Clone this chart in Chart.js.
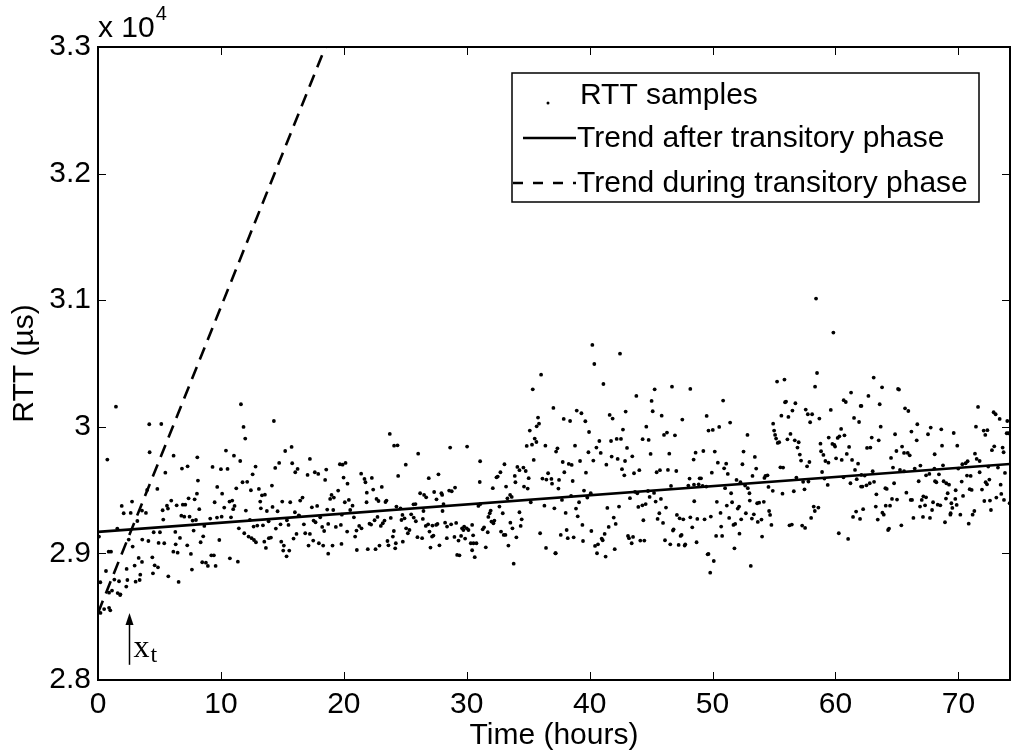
<!DOCTYPE html>
<html>
<head>
<meta charset="utf-8">
<script src="https://cdn.jsdelivr.net/npm/chart.js@4.4.0/dist/chart.umd.min.js"></script>
<style>
  html, body { margin: 0; padding: 0; background: #fff; }
  #wrap { width: 1014px; height: 755px; }
</style>
</head>
<body>
<div id="wrap"><canvas id="rttChart" width="1014" height="755"></canvas></div>
<script>
// --- datos ---
const xTickValues = [0, 10, 20, 30, 40, 50, 60, 70];
const yTickValues = [28000, 29000, 30000, 31000, 32000, 33000];
const yTickLabels = ['2.8', '2.9', '3', '3.1', '3.2', '3.3'];

// muestras RTT: [horas, microsegundos]
const rttSamples = [
  [1.46,30159],[11.63,30178],[4.17,30020],[5.15,30022],[11.84,29999],[11.98,29907],[0.76,29741],[4.2,29799],[6.15,29772],[8.08,29759],
  [10.41,29812],[11.06,29772],[11.57,29730],[5.48,29638],[6.83,29670],[7.29,29688],[9.32,29683],[10.0,29665],[10.54,29667],[8.13,29575],
  [4.83,29509],[4.0,29501],[9.7,29525],[10.1,29472],[11.25,29514],[11.76,29562],[12.14,29565],[1.93,29375],[2.77,29409],[2.09,29317],
  [2.66,29320],[3.58,29338],[3.9,29320],[5.26,29341],[5.69,29354],[5.96,29417],[5.61,29377],[6.4,29380],[6.9,29385],[7.1,29385],
  [7.37,29435],[7.86,29427],[8.05,29472],[8.24,29349],[9.49,29404],[10.27,29362],[10.7,29409],[10.92,29417],[11.0,29349],[11.11,29375],
  [12.03,29338],[3.2,29256],[5.31,29267],[6.78,29298],[7.02,29290],[7.45,29290],[7.7,29259],[7.97,29264],[9.13,29275],[9.68,29283],
  [10.06,29290],[10.82,29285],[8.65,29217],[7.78,29180],[11.46,29198],[11.9,29159],[12.25,29133],[0.08,29133],[1.57,29196],[2.5,29109],
  [2.82,29054],[3.6,29109],[4.1,29098],[4.53,29167],[5.04,29167],[4.93,29083],[5.39,29080],[6.29,29170],[6.67,29122],[6.32,29072],
  [7.26,29064],[7.56,28996],[8.35,29088],[8.56,29135],[9.87,29106],[0.87,29014],[1.06,29014],[4.42,28969],[3.31,28964],[3.58,28933],
  [2.98,28904],[2.33,28877],[3.44,28832],[4.61,28906],[4.88,28890],[5.72,28819],[7.64,28872],[6.13,29014],[6.48,29006],[8.48,28930],
  [8.78,28927],[8.94,28901],[9.22,28985],[9.43,28985],[9.57,28901],[6.56,28775],[10.73,28961],[11.38,28935],[4.47,28843],[0.65,28861],
  [0.19,28772],[1.33,28793],[1.71,28780],[2.39,28790],[3.06,28777],[3.39,28790],[2.3,28738],[1.14,28706],[0.9,28690],[1.82,28677],
  [0.5,28560],[0.9,28570],[1.0,28550],[0.2,28530],[1.6,28687],[1.8,28671],
  [14.31,30046],[23.74,29944],[24.09,29851],[24.37,29854],[15.23,29809],[15.75,29841],[14.74,29715],[15.8,29712],[12.82,29686],[12.58,29625],
  [14.42,29675],[17.24,29746],[16.05,29641],[16.24,29667],[17.05,29620],[17.64,29641],[17.92,29628],[18.57,29662],[18.48,29580],[19.68,29704],
  [19.9,29701],[20.14,29715],[21.41,29630],[21.68,29588],[21.76,29562],[22.28,29596],[19.98,29599],[20.3,29551],[12.44,29499],[14.15,29536],
  [13.09,29509],[13.34,29459],[13.58,29464],[13.2,29409],[13.25,29356],[13.74,29335],[14.2,29367],[14.61,29333],[14.99,29409],[15.64,29404],
  [16.45,29417],[16.64,29441],[16.02,29325],[16.34,29301],[17.4,29364],[17.83,29375],[18.65,29346],[18.89,29430],[19.0,29462],[19.19,29441],
  [19.14,29343],[19.54,29496],[20.08,29404],[20.41,29422],[20.52,29343],[20.71,29377],[21.85,29404],[21.87,29480],[22.39,29504],[22.66,29430],
  [22.82,29414],[23.09,29525],[23.39,29406],[23.47,29417],[24.28,29370],[24.61,29356],[24.42,29612],[12.36,29264],[12.66,29212],[12.96,29220],
  [13.42,29222],[13.88,29254],[14.47,29196],[14.85,29230],[15.5,29225],[15.37,29262],[16.37,29296],[16.75,29230],[16.86,29159],[17.24,29154],
  [17.54,29259],[17.7,29246],[18.08,29285],[18.24,29209],[18.4,29177],[18.73,29233],[19.35,29209],[19.76,29225],[19.84,29306],[20.27,29172],
  [20.82,29285],[20.92,29133],[21.03,29180],[21.25,29217],[21.44,29198],[22.09,29235],[22.22,29228],[22.5,29262],[22.74,29288],[23.01,29217],
  [23.17,29238],[23.31,29259],[23.82,29280],[24.07,29177],[23.99,29133],[24.23,29080],[24.69,29264],[24.77,29304],[12.5,29120],[12.69,29106],
  [12.85,29088],[13.53,29093],[13.66,29043],[13.9,29120],[14.07,29125],[14.91,29093],[15.12,29062],[15.07,29022],[15.34,28977],[15.56,29022],
  [15.91,29117],[16.15,29154],[17.13,29062],[17.51,29101],[17.97,29080],[18.32,29062],[18.73,28998],[19.08,29062],[19.81,29075],[21.06,29027],
  [21.95,29033],[22.58,29033],[22.9,29062],[23.55,29098],[23.63,29064],[24.18,29040],
  [36.05,30412],[35.37,30296],[37.05,30149],[35.8,30073],[35.88,30025],[35.69,30004],[35.13,29970],[35.53,29907],[35.67,29880],[34.88,29849],
  [35.31,29859],[36.4,29851],[35.45,29738],[37.27,29804],[26.05,29788],[25.04,29701],[28.65,29836],[30.03,29844],[31.09,29728],[33.07,29704],
  [34.12,29683],[34.29,29657],[34.61,29678],[34.8,29651],[32.74,29641],[32.52,29607],[32.42,29601],[33.91,29612],[33.96,29562],[35.04,29594],
  [34.66,29528],[34.96,29512],[36.16,29591],[36.62,29633],[36.48,29583],[36.89,29588],[36.94,29551],[31.06,29564],[32.12,29515],[33.2,29528],
  [26.91,29594],[27.7,29625],[26.21,29475],[26.53,29462],[26.7,29443],[27.35,29485],[27.54,29427],[27.94,29475],[28.0,29462],[28.57,29496],
  [28.78,29491],[29.05,29520],[25.67,29388],[25.83,29390],[25.48,29309],[25.69,29283],[25.86,29254],[24.94,29277],[25.07,29198],[25.21,29159],
  [25.34,29185],[24.8,29093],[26.48,29335],[26.43,29272],[26.67,29217],[26.86,29230],[26.97,29172],[27.51,29225],[27.62,29233],[28.03,29335],
  [28.11,29390],[27.21,29220],[27.29,29141],[27.18,29133],[25.99,29128],[26.37,29120],[27.05,29046],[27.78,29064],[28.24,29243],[28.4,29212],
  [28.73,29230],[29.14,29241],[28.38,29120],[29.0,29130],[29.33,29101],[29.54,29138],[29.62,29198],[29.79,29212],[29.73,29185],[30.0,29198],
  [30.14,29185],[30.44,29225],[30.52,29143],[30.33,29080],[30.55,29080],[30.79,29080],[30.44,29025],[30.65,28970],[29.87,29117],[29.22,28988],
  [29.41,28985],[30.95,29375],[31.11,29390],[31.3,29190],[31.41,29206],[31.55,29048],[31.71,29167],[31.95,29338],[31.87,29317],[31.76,29288],
  [32.01,29251],[32.25,29259],[32.17,29238],[32.66,29370],[32.93,29317],[32.79,29172],[33.01,29146],[33.15,29146],[33.39,29062],[33.55,29243],
  [33.72,29198],[34.04,29127],[34.39,29217],[34.47,29269],[34.29,29325],[33.82,28919],[33.31,29435],[33.53,29462],[33.66,29446],[35.21,29404],
  [35.97,29159],[36.32,29377],[36.45,29043],[37.13,29356],[37.21,29001],
  [40.22,30647],[40.38,30496],[42.47,30578],[41.12,30338],[43.8,30244],[45.04,30204],[45.29,30296],[46.7,30317],[48.19,30299],[38.95,30128],
  [39.33,30107],[37.89,30062],[38.41,30046],[39.65,30044],[41.63,30094],[41.87,30065],[42.93,30120],[45.13,30123],[45.86,30088],[47.54,30057],
  [49.52,30086],[39.95,29959],[42.71,29978],[44.61,30001],[42.2,29904],[42.55,29904],[41.74,29888],[40.79,29888],[44.31,29902],[44.8,29896],
  [46.05,29936],[46.29,29954],[46.94,29933],[37.38,29830],[38.81,29851],[39.9,29799],[40.55,29836],[40.9,29794],[43.04,29833],[41.79,29765],
  [42.28,29746],[42.88,29730],[43.47,29767],[44.96,29786],[46.48,29788],[48.62,29796],[48.46,29741],[49.25,29809],[37.81,29722],[38.3,29707],
  [38.54,29699],[39.22,29730],[40.3,29733],[41.36,29701],[37.94,29641],[39.7,29638],[38.62,29572],[37.51,29580],[37.46,29512],[42.63,29665],
  [42.82,29617],[43.61,29633],[44.04,29657],[45.45,29641],[45.72,29657],[46.37,29659],[47.05,29651],[48.13,29591],[48.95,29593],[49.06,29593],
  [48.03,29536],[48.49,29543],[48.87,29546],[49.19,29533],[49.49,29528],[46.62,29533],[39.54,29496],[40.09,29475],[38.49,29454],[37.75,29422],
  [39.14,29404],[39.81,29441],[38.89,29354],[39.03,29293],[43.69,29486],[43.88,29475],[44.75,29493],[45.24,29478],[43.28,29436],[43.96,29367],
  [44.29,29380],[44.56,29390],[44.88,29446],[45.37,29409],[45.8,29430],[41.44,29359],[42.39,29370],[46.21,29362],[48.51,29412],[48.19,29285],
  [47.62,29269],[47.32,29277],[47.1,29304],[48.76,29272],[49.35,29269],[38.05,29320],[39.41,29225],[40.14,29177],[41.55,29209],[41.96,29283],
  [42.12,29233],[44.37,29262],[45.53,29272],[45.67,29317],[45.97,29241],[46.83,29190],[46.78,29180],[48.35,29206],[37.65,29146],[38.13,29185],
  [38.22,29120],[38.7,29127],[39.46,29098],[40.44,29059],[40.68,29072],[40.6,29001],[40.98,29117],[41.06,29104],[41.22,29154],[41.3,28975],
  [42.04,29033],[43.12,29138],[43.2,29120],[43.53,29130],[43.42,29080],[44.12,29101],[44.45,29101],[46.13,29104],[46.56,29072],[47.24,29067],
  [47.4,29138],[47.48,29146],[47.73,29062],[47.78,29072],[48.7,29088],[37.24,29001],[49.6,28993],
  [58.42,31013],[59.83,30744],[58.5,30425],[58.34,30317],[55.25,30357],[55.85,30373],[50.86,30207],[51.43,30033],[61.27,30270],[60.67,30210],
  [60.84,30196],[55.98,30199],[55.9,30194],[56.74,30186],[56.5,30128],[57.58,30136],[57.75,30099],[58.1,30099],[58.69,30065],[57.94,30036],
  [55.6,30088],[56.17,30078],[59.62,30133],[62.05,30165],[61.51,30070],[61.92,30038],[49.67,29970],[50.02,29975],[50.54,29999],[52.84,29936],
  [54.93,30025],[55.01,29970],[55.09,29936],[55.17,29907],[55.42,29878],[55.3,29873],[56.34,29944],[56.09,29901],[56.69,29893],[57.01,29878],
  [56.91,29836],[57.1,29781],[57.2,29733],[57.69,29688],[57.88,29722],[60.46,29983],[60.73,29933],[60.32,29925],[60.18,29912],[59.45,29915],
  [58.78,29867],[59.75,29865],[59.97,29844],[59.91,29857],[61.11,29841],[60.92,29786],[58.83,29807],[59.02,29778],[59.18,29730],[59.43,29717],
  [60.05,29751],[60.51,29738],[61.35,29738],[61.59,29659],[61.84,29709],[50.18,29804],[52.52,29804],[53.44,29762],[50.43,29717],[50.94,29672],
  [51.11,29709],[52.43,29704],[49.94,29638],[51.24,29628],[53.25,29612],[53.55,29670],[51.95,29580],[52.27,29562],[52.87,29515],[54.3,29612],
  [54.47,29617],[54.22,29596],[55.52,29680],[55.74,29678],[58.91,29643],[56.82,29599],[59.1,29591],[59.37,29541],[51.02,29515],[52.65,29536],
  [53.0,29475],[54.55,29525],[54.9,29494],[55.69,29472],[56.61,29491],[57.37,29565],[57.48,29506],[57.8,29567],[60.65,29601],[61.22,29554],
  [61.73,29586],[62.08,29528],[51.51,29475],[50.35,29407],[51.59,29404],[51.16,29378],[52.05,29354],[52.16,29370],[53.03,29417],[53.63,29396],
  [53.79,29401],[54.17,29407],[53.36,29309],[53.2,29275],[52.71,29317],[52.33,29269],[51.35,29280],[50.65,29320],[49.86,29291],[53.68,29249],
  [53.98,29267],[54.6,29335],[54.68,29304],[54.79,29225],[56.26,29222],[56.45,29228],[57.29,29220],[57.53,29201],[58.02,29280],[58.23,29370],
  [58.32,29335],[58.61,29362],[50.7,29212],[51.7,29225],[51.84,29233],[50.29,29138],[50.78,29138],[52.19,29156],[54.03,29133],[51.78,29040],
  [53.11,28901],[49.67,28996],[50.1,28940],[49.81,28848],[60.27,29159],[61.03,29114],[61.43,29288],[61.68,29330],[62.0,29272],
  [63.11,30389],[63.79,30312],[65.09,30299],[65.17,30294],[62.68,30244],[62.11,30165],[63.6,30178],[65.66,30146],[65.93,30125],[71.6,30157],
  [72.87,30115],[73.03,30099],[73.36,30062],[73.98,30046],[63.68,30001],[66.18,29962],[66.66,30020],[67.75,29994],[68.61,29980],[69.62,29951],
  [71.43,30001],[72.06,29970],[72.36,29973],[72.19,29936],[73.93,29949],[74.06,29949],[74.28,29891],[62.95,29915],[63.52,29893],[64.85,29941],
  [66.61,29893],[67.53,29941],[62.57,29833],[62.84,29836],[64.96,29809],[65.42,29844],[65.58,29794],[65.88,29794],[66.04,29775],[68.67,29851],
  [69.91,29851],[68.07,29783],[71.35,29788],[71.73,29730],[71.49,29746],[72.73,29815],[72.92,29846],[73.68,29799],[73.6,29836],[64.52,29754],
  [63.03,29649],[64.68,29678],[65.25,29659],[65.58,29649],[66.45,29670],[66.91,29694],[68.75,29696],[68.05,29670],[67.37,29617],[67.64,29628],
  [68.42,29625],[70.32,29704],[70.59,29712],[70.75,29728],[69.99,29670],[70.7,29615],[71.0,29612],[71.73,29641],[72.43,29686],[73.22,29678],
  [73.79,29636],[62.11,29620],[62.38,29615],[62.79,29554],[63.14,29565],[62.52,29538],[62.19,29528],[64.06,29515],[64.17,29509],[64.77,29554],
  [65.77,29480],[66.77,29570],[68.1,29570],[68.21,29562],[68.8,29570],[69.02,29554],[69.24,29543],[69.13,29475],[69.78,29499],[70.27,29567],
  [70.92,29507],[71.08,29501],[72.52,29583],[72.22,29562],[71.92,29504],[72.33,29546],[73.44,29543],[63.33,29467],[64.6,29430],[65.01,29425],
  [66.12,29422],[66.23,29422],[67.02,29422],[67.15,29451],[67.37,29443],[67.94,29404],[68.32,29385],[68.53,29380],[68.99,29433],[69.43,29396],
  [69.75,29430],[70.38,29454],[72.11,29414],[72.57,29417],[73.09,29441],[73.49,29470],[73.71,29422],[74.17,29396],[74.39,29522],[62.25,29349],
  [63.28,29370],[64.09,29377],[64.44,29377],[66.88,29370],[67.29,29380],[67.86,29343],[69.51,29359],[69.37,29317],[69.86,29383],[71.3,29335],
  [71.16,29306],[72.65,29343],[63.44,29267],[63.82,29322],[63.93,29306],[64.28,29185],[64.36,29196],[65.36,29222],[66.34,29280],[67.12,29288],
  [67.69,29280],[68.91,29246],[69.35,29306],[70.16,29306],[70.84,29235]
];

// rectas de tendencia: [horas, microsegundos]
const trendAfter = [[0, 29170], [74.2, 29706]];
const trendDuring = [[0, 28530], [18.5, 33000]];

// fin de la fase transitoria (flecha x_t)
const transitoryEnd = 2.5;
const arrowFrom = 28120;
const arrowTo = 28530;

const FONT = '"Liberation Sans", Arial, Helvetica, sans-serif';
const SERIF = '"Liberation Serif", "Times New Roman", serif';

function toXY(list) {
    return list.map(p => ({ x: p[0], y: p[1] }));
}

// --- marco, ticks internos, exponente, leyenda y flecha al estilo MATLAB ---
const matlabDecor = {
    id: 'matlabDecor',
    afterDatasetsDraw(chart) {
        const { ctx, chartArea: a, scales: { x, y } } = chart;
        ctx.save();

        // ticks hacia dentro en los cuatro lados
        ctx.strokeStyle = '#000';
        ctx.lineWidth = 1;
        ctx.beginPath();
        x.ticks.forEach(t => {
            const px = Math.round(x.getPixelForValue(t.value)) + 0.5;
            ctx.moveTo(px, a.bottom); ctx.lineTo(px, a.bottom - 8);
            ctx.moveTo(px, a.top); ctx.lineTo(px, a.top + 8);
        });
        y.ticks.forEach(t => {
            const py = Math.round(y.getPixelForValue(t.value)) + 0.5;
            ctx.moveTo(a.left, py); ctx.lineTo(a.left + 8, py);
            ctx.moveTo(a.right, py); ctx.lineTo(a.right - 8, py);
        });
        ctx.stroke();

        // caja de ejes
        ctx.lineWidth = 2;
        ctx.strokeRect(a.left, a.top, a.right - a.left, a.bottom - a.top);

        // exponente "x 10^4"
        ctx.fillStyle = '#000';
        ctx.textAlign = 'left';
        ctx.textBaseline = 'alphabetic';
        ctx.font = '30px ' + FONT;
        ctx.fillText('x 10', a.left, 37);
        const w = ctx.measureText('x 10').width;
        ctx.font = '20px ' + FONT;
        ctx.fillText('4', a.left + w + 1, 20);

        // flecha x_t
        const ax = Math.round(x.getPixelForValue(transitoryEnd)) + 0.5;
        const ay0 = y.getPixelForValue(arrowFrom);
        const ay1 = y.getPixelForValue(arrowTo);
        ctx.lineWidth = 1.5;
        ctx.beginPath();
        ctx.moveTo(ax, ay0);
        ctx.lineTo(ax, ay1 + 8);
        ctx.stroke();
        ctx.beginPath();
        ctx.moveTo(ax, ay1);
        ctx.lineTo(ax - 4, ay1 + 12);
        ctx.lineTo(ax + 4, ay1 + 12);
        ctx.closePath();
        ctx.fill();
        ctx.font = '32px ' + SERIF;
        ctx.fillText('x', ax + 4, 657);
        const xw = ctx.measureText('x').width;
        ctx.font = '24px ' + SERIF;
        ctx.fillText('t', ax + 4 + xw + 1, 662);

        // leyenda
        const ds = chart.data.datasets;
        ctx.fillStyle = '#fff';
        ctx.fillRect(512, 73, 467, 129);
        ctx.lineWidth = 1.5;
        ctx.strokeStyle = '#000';
        ctx.strokeRect(512, 73, 467, 129);
        ctx.fillStyle = '#000';
        ctx.font = '30px ' + FONT;
        ctx.beginPath();
        ctx.arc(548, 103, 1.5, 0, Math.PI * 2);
        ctx.fill();
        ctx.fillText(ds[0].label, 580, 104);

        ctx.lineWidth = 2.5;
        ctx.beginPath();
        ctx.moveTo(523, 138); ctx.lineTo(576, 138);
        ctx.stroke();
        ctx.fillText(ds[1].label, 577, 147);

        ctx.setLineDash([10, 10]);
        ctx.beginPath();
        ctx.moveTo(513, 183); ctx.lineTo(576, 183);
        ctx.stroke();
        ctx.setLineDash([]);
        ctx.fillText(ds[2].label, 577, 192);

        ctx.restore();
    }
};

const chart = new Chart(document.getElementById('rttChart'), {
    type: 'scatter',
    data: {
        datasets: [
            {
                label: 'RTT samples',
                data: toXY(rttSamples),
                pointRadius: 1.9,
                pointBorderWidth: 0,
                pointBackgroundColor: '#000',
                borderColor: '#000',
                showLine: false
            },
            {
                label: 'Trend after transitory phase',
                data: toXY(trendAfter),
                showLine: true,
                borderColor: '#000',
                borderWidth: 2.6,
                pointRadius: 0
            },
            {
                label: 'Trend during transitory phase',
                data: toXY(trendDuring),
                showLine: true,
                borderColor: '#000',
                borderWidth: 2.6,
                borderDash: [13, 8],
                pointRadius: 0
            }
        ]
    },
    options: {
        responsive: false,
        animation: false,
        devicePixelRatio: 1,
        layout: { padding: { left: 0, right: 3, top: 47, bottom: 0 } },
        plugins: {
            legend: { display: false },
            tooltip: { enabled: false }
        },
        scales: {
            x: {
                type: 'linear',
                min: 0,
                max: 74.2,
                grid: { display: false, drawTicks: false },
                border: { display: false },
                afterFit: s => { s.height = 75; },
                afterBuildTicks: s => { s.ticks = xTickValues.map(v => ({ value: v })); },
                ticks: {
                    padding: 7,
                    color: '#000',
                    autoSkip: false,
                    maxRotation: 0,
                    font: { family: FONT, size: 30 },
                    callback: v => String(v)
                },
                title: {
                    display: true,
                    text: 'Time (hours)',
                    color: '#000',
                    font: { family: FONT, size: 30 },
                    padding: { top: 0, bottom: 1 }
                }
            },
            y: {
                type: 'linear',
                min: 28000,
                max: 33000,
                grid: { display: false, drawTicks: false },
                border: { display: false },
                afterFit: s => { s.width = 98; },
                afterBuildTicks: s => { s.ticks = yTickValues.map(v => ({ value: v })); },
                ticks: {
                    padding: 7,
                    color: '#000',
                    autoSkip: false,
                    font: { family: FONT, size: 30 },
                    callback: (v, i) => yTickLabels[i]
                },
                title: {
                    display: true,
                    text: 'RTT (µs)',
                    color: '#000',
                    font: { family: FONT, size: 30 },
                    padding: { top: 7, bottom: 0 }
                }
            }
        }
    },
    plugins: [matlabDecor]
});
</script>
</body>
</html>
